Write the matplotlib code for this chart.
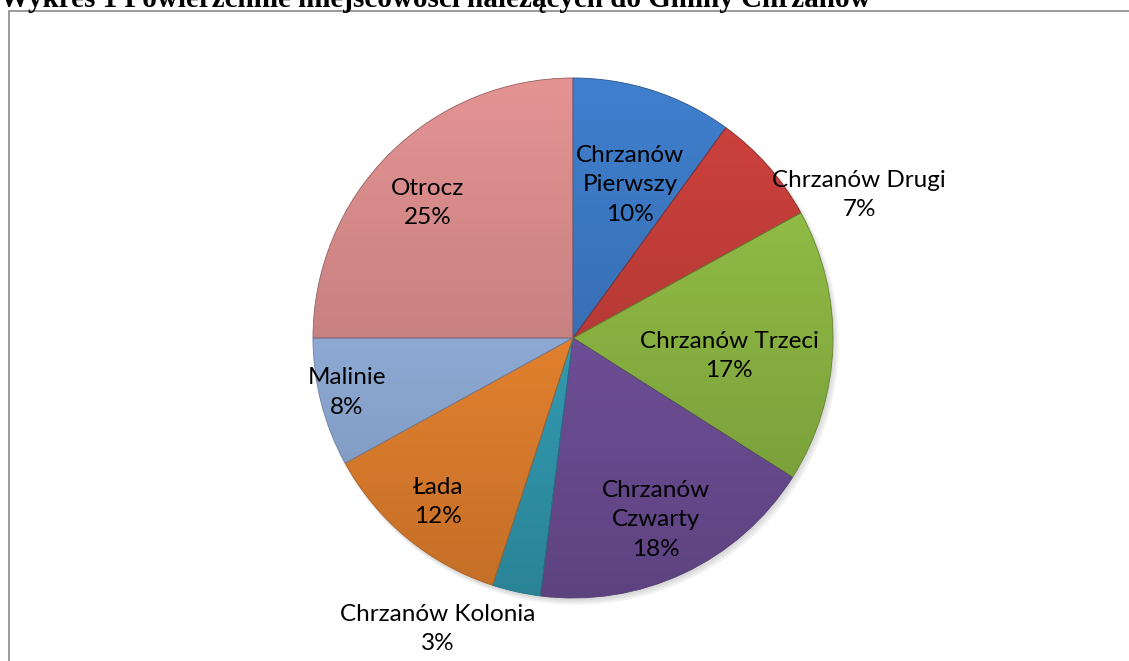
#!/usr/bin/env python3
# -*- coding: utf-8 -*-
"""Pie chart: area share of villages in Gmina Chrzanów."""

import numpy as np
import matplotlib
matplotlib.use("Agg")
import matplotlib.pyplot as plt
from matplotlib.colors import to_rgb
from matplotlib.patches import Rectangle, Circle

# ====== Data ======
names = ["Chrzanów\nPierwszy", "Chrzanów Drugi", "Chrzanów Trzeci", "Chrzanów\nCzwarty",
         "Chrzanów Kolonia", "Łada", "Malinie", "Otrocz"]
shares = [10, 7, 17, 18, 3, 12, 8, 25]
colors = ["#3A74BC", "#BE3C38", "#8CB643", "#72519C", "#34A0B8", "#EF8630", "#93B1DD", "#D08686"]
TITLE = "Wykres 1 Powierzchnie miejscowości należących do Gminy Chrzanów"

# label positions in pie-radius units (Excel "best fit" placement)
label_xy = [(0.22, 0.59), (1.10, 0.55), (0.60, -0.07), (0.32, -0.70),
            (-0.52, -1.12), (-0.52, -0.63), (-0.87, -0.21), (-0.56, 0.52)]

W, H = 1129, 661
CX, CY, R = 573, 338, 260  # pixel centre / radius of pie


def shade(c, f):
    r, g, b = to_rgb(c)
    return tuple(min(1.0, max(0.0, v * f)) for v in (r, g, b))


def main():
    fig = plt.figure(figsize=(W / 100, H / 100), dpi=100)
    ax = fig.add_axes([0, 0, 1, 1])

    # soft drop shadow
    for k, a in enumerate([0.05, 0.05, 0.05]):
        ax.add_patch(Circle((0.006 + 0.004 * k, -0.010 - 0.004 * k), 1.0 + 0.004 * k,
                            color="black", alpha=a, lw=0, zorder=0.5))

    wedges, _ = ax.pie(shares, colors=colors, startangle=90, counterclock=False,
                       radius=1.0, center=(0, 0), frame=True,
                       wedgeprops=dict(linewidth=0.6, edgecolor="none"))
    ax.set_xlim(-CX / R, (W - CX) / R)
    ax.set_ylim(-(H - CY) / R, CY / R)
    ax.axis("off")

    # vertical light->dark gradient inside each wedge (Office-2007 style)
    yy = np.linspace(1, 0, 256)[:, None]
    for w, c in zip(wedges, colors):
        top, bot = np.array(shade(c, 1.10)), np.array(shade(c, 0.82))
        grad = bot + (top - bot) * yy
        img = np.repeat(grad[:, None, :], 2, axis=1).reshape(256, 2, 3)
        im = ax.imshow(img, extent=(-1, 1, -1, 1), aspect="auto", zorder=1.5,
                       interpolation="bilinear")
        im.set_clip_path(w)
        w.set_facecolor("none")
        w.set_edgecolor(shade(c, 0.72))
        w.set_zorder(2)

    for (x, y), n, s in zip(label_xy, names, shares):
        ax.text(x, y, f"{n}\n{s}%", ha="center", va="center", fontsize=17.5,
                family="Lato", color="black", linespacing=1.5, zorder=5)

    # outer chart frame (cut off at right and bottom)
    fig.patches.append(Rectangle((8.5 / W, -0.05), 2.0, 1 - 11.5 / H + 0.05,
                                 transform=fig.transFigure, fill=False,
                                 edgecolor="#8a8a8a", linewidth=1.2))

    # caption above the chart, top half cut off by the image edge
    fig.text(0.0, 1 - 7 / H, TITLE, ha="left", va="baseline", fontsize=21,
             family="Liberation Serif", fontweight="bold")

    fig.savefig("out.png", dpi=100)


if __name__ == "__main__":
    main()
